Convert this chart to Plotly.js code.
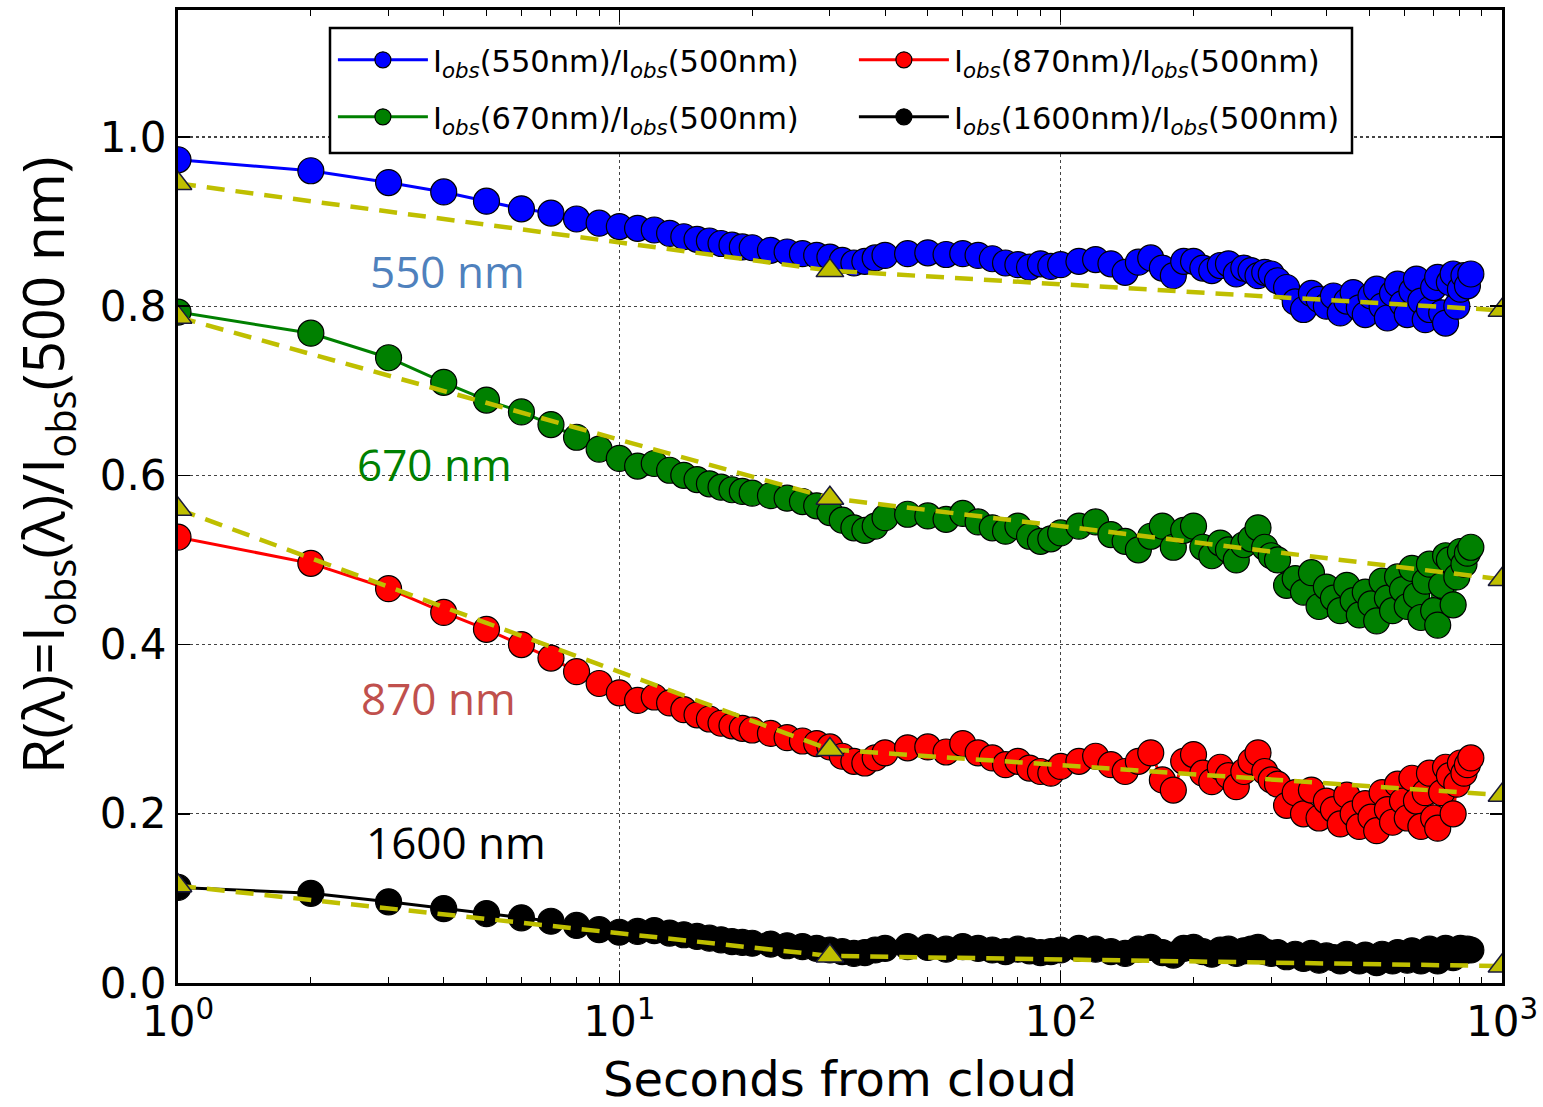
<!DOCTYPE html>
<html>
<head>
<meta charset="utf-8">
<script src="https://cdn.plot.ly/plotly-3.0.1.min.js"></script>
<style>html,body{margin:0;padding:0;background:#fff;}#chart{width:1543px;height:1107px;}</style>
</head>
<body>
<div id="chart"></div>
<script>
// ---- data ----
const seconds = [1,2,3,4,5,6,7,8,9,10,11,12,13,14,15,16,17,18,19,20,
  22,24,26,28,30,32,34,36,38,40,
  45,50,55,60,65,70,75,80,85,90,95,100,
  110,120,130,140,150,160,170,180,190,200,210,220,230,240,250,260,270,280,290,300,
  310,325,340,355,370,385,400,415,430,445,460,475,490,505,520,535,550,565,580,595,610,625,640,655,670,685,700,715,730,745,760,775,790,805,820,835,850];

const r550 = [0.973,0.960,0.946,0.935,0.924,0.915,0.910,0.903,0.898,0.894,0.892,0.890,0.886,0.882,0.879,0.877,0.874,0.872,0.870,0.869,
  0.866,0.864,0.862,0.860,0.858,0.854,0.851,0.853,0.857,0.860,
  0.862,0.863,0.861,0.862,0.860,0.856,0.851,0.849,0.846,0.850,0.847,0.849,
  0.853,0.855,0.850,0.840,0.852,0.857,0.845,0.836,0.853,0.853,0.845,0.842,0.848,0.850,0.838,0.845,0.842,0.836,0.840,0.838,
  0.830,0.822,0.805,0.796,0.815,0.808,0.800,0.812,0.792,0.806,0.816,0.798,0.790,0.812,0.820,0.800,0.786,0.815,0.826,0.803,0.790,0.818,0.832,0.806,0.784,0.796,0.822,0.834,0.792,0.780,0.828,0.838,0.800,0.820,0.836,0.824,0.838];

const r670 = [0.793,0.768,0.739,0.710,0.689,0.675,0.660,0.645,0.631,0.620,0.611,0.614,0.606,0.600,0.595,0.590,0.586,0.583,0.581,0.579,
  0.576,0.573,0.569,0.564,0.556,0.547,0.538,0.535,0.540,0.550,
  0.554,0.552,0.548,0.555,0.545,0.538,0.534,0.540,0.528,0.522,0.525,0.532,
  0.540,0.545,0.530,0.522,0.512,0.528,0.540,0.515,0.535,0.540,0.515,0.505,0.520,0.512,0.500,0.518,0.525,0.538,0.515,0.505,
  0.500,0.470,0.478,0.462,0.485,0.445,0.468,0.455,0.440,0.470,0.452,0.435,0.462,0.448,0.428,0.475,0.455,0.440,0.480,0.465,0.445,0.490,0.458,0.432,0.475,0.495,0.440,0.423,0.470,0.505,0.500,0.447,0.480,0.510,0.495,0.508,0.515];

const r870 = [0.527,0.496,0.466,0.438,0.418,0.400,0.384,0.368,0.354,0.343,0.334,0.338,0.331,0.323,0.317,0.312,0.307,0.304,0.301,0.299,
  0.295,0.290,0.286,0.283,0.279,0.268,0.262,0.260,0.266,0.272,
  0.278,0.279,0.273,0.283,0.272,0.266,0.258,0.262,0.254,0.250,0.248,0.256,
  0.262,0.268,0.258,0.250,0.262,0.272,0.240,0.228,0.262,0.270,0.248,0.238,0.255,0.245,0.232,0.250,0.262,0.272,0.250,0.240,
  0.235,0.210,0.225,0.200,0.228,0.195,0.215,0.205,0.188,0.222,0.200,0.185,0.212,0.196,0.180,0.225,0.205,0.190,0.235,0.215,0.195,0.242,0.215,0.185,0.225,0.248,0.195,0.183,0.225,0.255,0.245,0.200,0.235,0.260,0.248,0.258,0.266];

const r1600 = [0.113,0.106,0.096,0.088,0.082,0.077,0.073,0.068,0.063,0.060,0.061,0.062,0.059,0.057,0.055,0.053,0.051,0.049,0.048,0.047,
  0.046,0.044,0.043,0.041,0.039,0.037,0.035,0.036,0.039,0.041,
  0.043,0.042,0.040,0.043,0.041,0.039,0.037,0.040,0.038,0.036,0.037,0.039,
  0.041,0.040,0.037,0.035,0.040,0.042,0.036,0.033,0.041,0.042,0.037,0.034,0.039,0.040,0.035,0.038,0.040,0.042,0.037,0.035,
  0.036,0.031,0.034,0.029,0.035,0.027,0.032,0.030,0.026,0.034,0.030,0.026,0.033,0.028,0.024,0.034,0.029,0.026,0.036,0.031,0.027,0.038,0.032,0.026,0.035,0.040,0.029,0.026,0.035,0.041,0.039,0.030,0.036,0.041,0.038,0.040,0.039];

const fitSeconds = [1, 30, 1000];
const fit550 = [0.945, 0.842, 0.795];
const fit670 = [0.787, 0.573, 0.477];
const fit870 = [0.560, 0.276, 0.222];
const fit1600 = [0.115, 0.032, 0.020];

const seriesNames = [
  'I<sub><i>obs</i></sub>(550nm)/I<sub><i>obs</i></sub>(500nm)',
  'I<sub><i>obs</i></sub>(670nm)/I<sub><i>obs</i></sub>(500nm)',
  'I<sub><i>obs</i></sub>(870nm)/I<sub><i>obs</i></sub>(500nm)',
  'I<sub><i>obs</i></sub>(1600nm)/I<sub><i>obs</i></sub>(500nm)'
];
const seriesColors = ['#0000ff', '#008000', '#ff0000', '#000000'];
const seriesLegend = ['legend', 'legend2', 'legend', 'legend2'];
const xTickVals = [1, 10, 100, 1000];
const xTickText = ['10<sup>0</sup>', '10<sup>1</sup>', '10<sup>2</sup>', '10<sup>3</sup>'];
const xMinorVals = [2,3,4,5,6,7,8,9,20,30,40,50,60,70,80,90,200,300,400,500,600,700,800,900];
const yTickVals = [0, 0.2, 0.4, 0.6, 0.8, 1.0];
const labelTexts = ['550 nm', '670 nm', '870 nm', '1600 nm'];
const labelColors = ['#4f81bd', '#008000', '#c0504d', '#000000'];
const labelX = [4.09, 3.82, 3.90, 4.27];
const labelY = [0.842, 0.614, 0.337, 0.167];
const yTitleText = 'R(λ)=I<sub>obs</sub>(λ)/I<sub>obs</sub>(500 nm)';
const xTitleText = 'Seconds from cloud';

// ---- traces ----
const dataY = [r550, r670, r870, r1600];
const fitY = [fit550, fit670, fit870, fit1600];
const traces = [];
dataY.forEach((ys, i) => {
  traces.push({
    type: 'scatter', mode: 'lines+markers', x: seconds, y: ys,
    name: seriesNames[i], legend: seriesLegend[i],
    line: {color: seriesColors[i], width: 3},
    marker: {symbol: 'circle', size: 26, color: seriesColors[i], line: {color: '#000', width: 1.2}}
  });
});
fitY.forEach((ys) => {
  traces.push({
    type: 'scatter', mode: 'lines+markers', x: fitSeconds, y: ys,
    showlegend: false, hoverinfo: 'skip',
    line: {color: '#bfbf00', width: 4.5, dash: '18px,11px'},
    marker: {symbol: 'triangle-up', size: 24, color: '#bfbf00', line: {color: '#1a1a3a', width: 1.5}}
  });
});

const annotations = labelTexts.map((t, i) => ({
  x: Math.log10(labelX[i]), y: labelY[i], xref: 'x', yref: 'y',
  text: t, showarrow: false, xanchor: 'center', yanchor: 'middle',
  font: {family: 'Open Sans, sans-serif', size: 44, color: labelColors[i]}
}));
annotations.push({
  x: (45 - 178) / 1324, y: (983 - 465) / 973, xref: 'paper', yref: 'paper',
  text: yTitleText, textangle: -90, showarrow: false, xanchor: 'center', yanchor: 'middle',
  font: {family: 'Open Sans, sans-serif', size: 57, color: '#000'}
});

const legendCommon = {
  x: 0.117, xanchor: 'left', yanchor: 'middle',
  orientation: 'h', entrywidth: 416, entrywidthmode: 'pixels',
  itemwidth: 90, traceorder: 'normal',
  bgcolor: 'rgba(0,0,0,0)', borderwidth: 0,
  font: {family: 'DejaVu Sans, sans-serif', size: 30.5, color: '#000'}
};

const layout = {
  width: 1543, height: 1107,
  margin: {l: 178, r: 41, t: 10, b: 124},
  paper_bgcolor: '#fff', plot_bgcolor: '#fff',
  showlegend: true,
  legend: Object.assign({}, legendCommon, {y: (983 - 60) / 973}),
  legend2: Object.assign({}, legendCommon, {y: (983 - 117) / 973}),
  shapes: [{
    type: 'rect', xref: 'paper', yref: 'paper', layer: 'above',
    x0: (330 - 178) / 1324, x1: (1352 - 178) / 1324,
    y0: (983 - 153) / 973, y1: (983 - 28) / 973,
    line: {color: '#000', width: 2.5}, fillcolor: '#fff'
  }],
  xaxis: {
    type: 'log', range: [0, 3],
    tickmode: 'array', tickvals: xTickVals, ticktext: xTickText,
    ticks: 'inside', ticklen: 12, tickwidth: 1.5, tickcolor: '#000',
    showline: true, linecolor: '#000', linewidth: 3, mirror: 'allticks',
    showgrid: true, gridcolor: '#444', griddash: 'dot', gridwidth: 1.2,
    zeroline: false,
    minor: {tickmode: 'array', tickvals: xMinorVals, ticks: 'inside', ticklen: 6, tickwidth: 1, tickcolor: '#000', showgrid: false},
    tickfont: {family: 'DejaVu Sans, sans-serif', size: 42, color: '#000'},
    title: {text: xTitleText, standoff: 22, font: {family: 'DejaVu Sans, sans-serif', size: 48, color: '#000'}}
  },
  yaxis: {
    range: [0, 1.15],
    tickmode: 'array', tickvals: yTickVals, tickformat: '.1f',
    ticks: 'inside', ticklen: 12, tickwidth: 1.5, tickcolor: '#000',
    showline: true, linecolor: '#000', linewidth: 3, mirror: 'allticks',
    showgrid: true, gridcolor: '#444', griddash: 'dot', gridwidth: 1.2,
    zeroline: false,
    tickfont: {family: 'DejaVu Sans, sans-serif', size: 42, color: '#000'}
  },
  annotations: annotations
};

Plotly.newPlot('chart', traces, layout, {staticPlot: true, displayModeBar: false});
</script>
</body>
</html>
